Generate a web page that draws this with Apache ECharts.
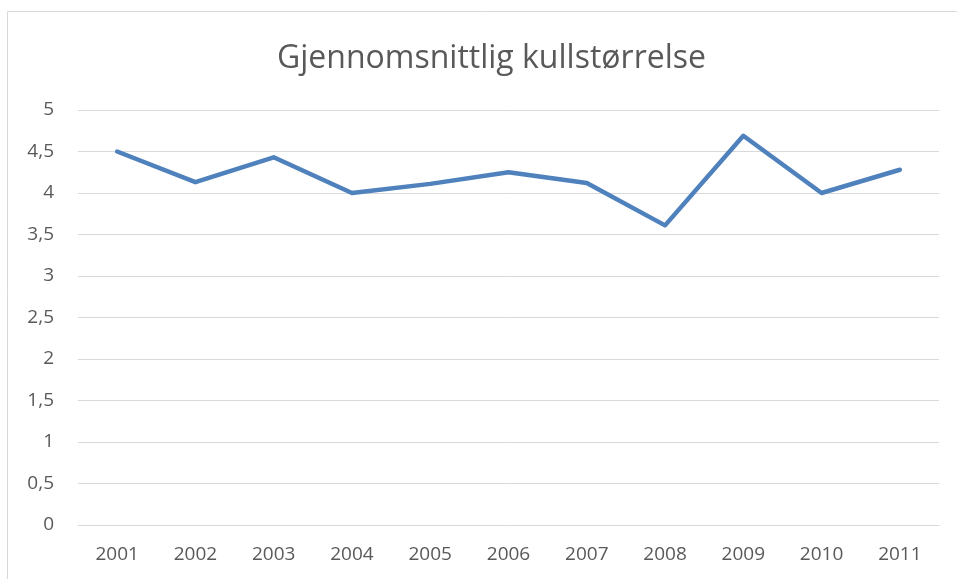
<!DOCTYPE html>
<html>
<head>
<meta charset="utf-8">
<script src="https://cdn.jsdelivr.net/npm/echarts@6/dist/echarts.min.js"></script>
<style>
  html, body { margin: 0; padding: 0; background: #fff; }
  #chart { width: 957px; height: 579px; }
</style>
</head>
<body>
<div id="chart"></div>
<script>
// år og gjennomsnittlig kullstørrelse
var years = ['2001', '2002', '2003', '2004', '2005', '2006', '2007', '2008', '2009', '2010', '2011'];
var litterSize = [4.5, 4.13, 4.43, 4.0, 4.11, 4.25, 4.12, 3.61, 4.69, 4.0, 4.28];
var chartTitle = 'Gjennomsnittlig kullstørrelse';

var chart = echarts.init(document.getElementById('chart'));
chart.setOption({
  backgroundColor: '#fff',
  animation: false,
  title: {
    text: chartTitle,
    left: 272,
    top: 38,
    textStyle: {
      color: '#595959',
      fontFamily: 'Open Sans',
      fontWeight: 'normal',
      fontSize: 32
    }
  },
  graphic: [
    {
      // ramme rundt diagrammet
      type: 'rect',
      shape: { x: 7.5, y: 11.5, width: 960, height: 600 },
      style: { fill: 'none', stroke: '#d9d9d9', lineWidth: 1 },
      z: -1
    }
  ],
  grid: { left: 78, right: 18, top: 110, bottom: 54 },
  xAxis: {
    type: 'category',
    data: years,
    boundaryGap: true,
    axisLine: { show: true, lineStyle: { color: '#d9d9d9', width: 1 } },
    axisTick: { show: false },
    axisLabel: {
      color: '#595959',
      fontFamily: 'Open Sans',
      fontSize: 19,
      margin: 20
    }
  },
  yAxis: {
    type: 'value',
    min: 0,
    max: 5,
    interval: 0.5,
    axisLine: { show: false },
    axisTick: { show: false },
    splitLine: { lineStyle: { color: '#d9d9d9', width: 1 } },
    axisLabel: {
      color: '#595959',
      fontFamily: 'Open Sans',
      fontSize: 19,
      margin: 24,
      formatter: function (v) { return String(v).replace('.', ','); }
    }
  },
  series: [
    {
      name: chartTitle,
      type: 'line',
      data: litterSize,
      symbol: 'none',
      lineStyle: { color: '#4f81bd', width: 4.5, cap: 'round', join: 'round' },
      itemStyle: { color: '#4f81bd' }
    }
  ]
});
</script>
</body>
</html>
